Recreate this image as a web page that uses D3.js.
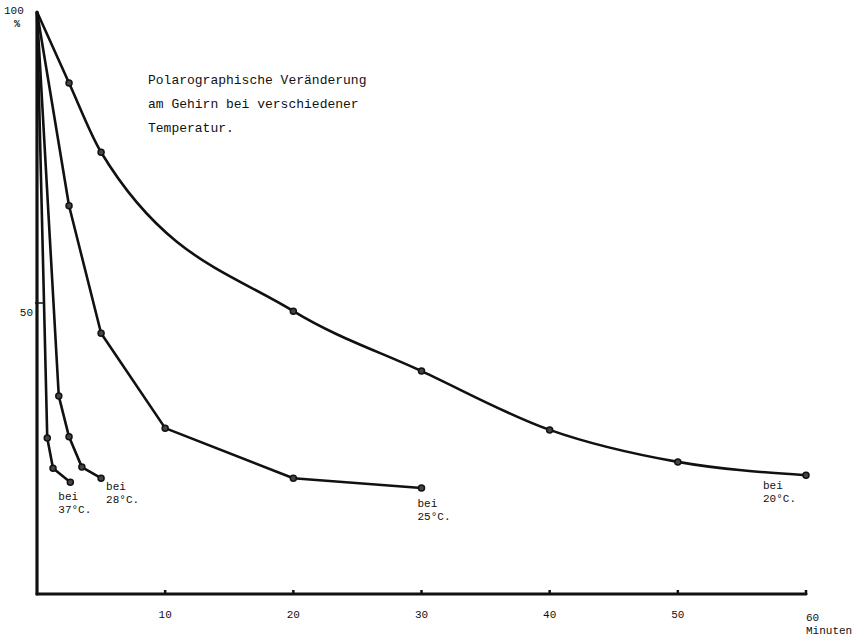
<!DOCTYPE html>
<html>
<head>
<meta charset="utf-8">
<script src="https://cdn.jsdelivr.net/npm/d3@7"></script>
<style>
  body { margin: 0; background: #fff; }
  text { font-family: "Liberation Mono", "DejaVu Sans Mono", monospace; fill: #111; }
</style>
</head>
<body>
<div id="canvas"></div>
<script>
"use strict"

/* drawing size */
let svgWidth = 858;
let svgHeight = 642;

/* data: minutes and percent, one pair of arrays per temperature */
let minutes20 = [0, 2.5, 5, 20, 30, 40, 50, 60];
let percent20 = [100, 87.8, 75.9, 48.6, 38.3, 28.2, 22.7, 20.4];

let minutes25 = [0, 2.5, 5, 10, 20, 30];
let percent25 = [100, 66.7, 44.8, 28.5, 19.9, 18.2];

let minutes28 = [0, 1.7, 2.5, 3.5, 5];
let percent28 = [100, 34.0, 27.0, 21.8, 19.9];

let minutes37 = [0, 0.8, 1.25, 2.6];
let percent37 = [100, 26.8, 21.6, 19.2];

let seriesNames = ["20", "25", "28", "37"];
let xTicks = [10, 20, 30, 40, 50, 60];
let titleLines = ["Polarographische Veränderung", "am Gehirn bei verschiedener", "Temperatur."];

/* build point lists */
function zipSeries(ts, vs) {
    return ts.map(function(t, i) { return { t: t, v: vs[i] }; });
}
let seriesData = {
    "20": zipSeries(minutes20, percent20),
    "25": zipSeries(minutes25, percent25),
    "28": zipSeries(minutes28, percent28),
    "37": zipSeries(minutes37, percent37)
};

let svg = d3.select("#canvas")
    .append("svg")
    .attr("width", svgWidth)
    .attr("height", svgHeight);

/* scales */
let xScale = d3.scaleLinear()
    .domain([0, 60])
    .range([37, 806]);

let yScale = d3.scaleLinear()
    .domain([0, 100])
    .range([594, 12]);

/* axis lines */
svg.append("line")
    .attr("x1", xScale(0))
    .attr("y1", yScale(0))
    .attr("x2", xScale(60))
    .attr("y2", yScale(0))
    .attr("stroke", "#111")
    .attr("stroke-width", 3.2)
    .attr("stroke-linecap", "round");

svg.append("line")
    .attr("x1", xScale(0))
    .attr("y1", yScale(0))
    .attr("x2", xScale(0))
    .attr("y2", yScale(100))
    .attr("stroke", "#111")
    .attr("stroke-width", 3.2)
    .attr("stroke-linecap", "round");

/* x ticks, small bumps on the axis */
svg.selectAll(".xtick")
    .data(xTicks)
    .join("line")
    .attr("class", "xtick")
    .attr("x1", d => xScale(d))
    .attr("x2", d => xScale(d))
    .attr("y1", yScale(0))
    .attr("y2", yScale(0) - 4)
    .attr("stroke", "#111")
    .attr("stroke-width", 2.5);

svg.selectAll(".xlabel")
    .data(xTicks)
    .join("text")
    .attr("class", "xlabel")
    .attr("x", d => xScale(d))
    .attr("y", d => d === 60 ? 621 : 618)
    .attr("text-anchor", d => d === 60 ? "start" : "middle")
    .attr("font-size", 11)
    .text(d => d);

svg.append("text")
    .attr("x", xScale(60))
    .attr("y", 634)
    .attr("font-size", 11)
    .text("Minuten");

/* y ticks */
svg.append("line")
    .attr("x1", xScale(0) - 2)
    .attr("x2", xScale(0) + 8)
    .attr("y1", yScale(50))
    .attr("y2", yScale(50))
    .attr("stroke", "#111")
    .attr("stroke-width", 1.5);

svg.append("text")
    .attr("x", 33)
    .attr("y", yScale(50) + 13)
    .attr("text-anchor", "end")
    .attr("font-size", 11)
    .text("50");

svg.append("text")
    .attr("x", 4)
    .attr("y", yScale(100) + 2)
    .attr("font-size", 11)
    .text("100");

svg.append("text")
    .attr("x", 14)
    .attr("y", yScale(100) + 15)
    .attr("font-size", 10)
    .attr("font-weight", "bold")
    .text("%");

/* curves: 20 deg is a smooth curve, the rest are straight segments */
let lineSmooth = d3.line()
    .x(d => xScale(d.t))
    .y(d => yScale(d.v))
    .curve(d3.curveMonotoneX);

let linePoly = d3.line()
    .x(d => xScale(d.t))
    .y(d => yScale(d.v));

seriesNames.forEach(function(name) {
    let pts = seriesData[name];
    svg.append("path")
        .attr("d", name === "20" ? lineSmooth(pts) : linePoly(pts))
        .attr("fill", "none")
        .attr("stroke", "#111")
        .attr("stroke-width", 2.6)
        .attr("stroke-linejoin", "round");

    svg.selectAll(".m" + name)
        .data(pts.slice(1))
        .join("circle")
        .attr("class", "m" + name)
        .attr("cx", d => xScale(d.t))
        .attr("cy", d => yScale(d.v))
        .attr("r", 3)
        .attr("fill", "#444")
        .attr("stroke", "#111")
        .attr("stroke-width", 1.5);
});

/* series labels, placed under the last point */
let labelOffsets = {
    "20": [-43, 14],
    "25": [-4, 19],
    "28": [5, 12],
    "37": [-12, 18]
};

seriesNames.forEach(function(name) {
    let pts = seriesData[name];
    let last = pts[pts.length - 1];
    let lx = xScale(last.t) + labelOffsets[name][0];
    let ly = yScale(last.v) + labelOffsets[name][1];
    svg.append("text")
        .attr("x", lx)
        .attr("y", ly)
        .attr("font-size", 11)
        .text("bei");
    svg.append("text")
        .attr("x", lx)
        .attr("y", ly + 13)
        .attr("font-size", 11)
        .text(name + "°C.");
});

/* title block */
svg.selectAll(".title")
    .data(titleLines)
    .join("text")
    .attr("class", "title")
    .attr("x", 148)
    .attr("y", (d, i) => 84 + i * 24)
    .attr("font-size", 13)
    .text(d => d);
</script>
</body>
</html>
